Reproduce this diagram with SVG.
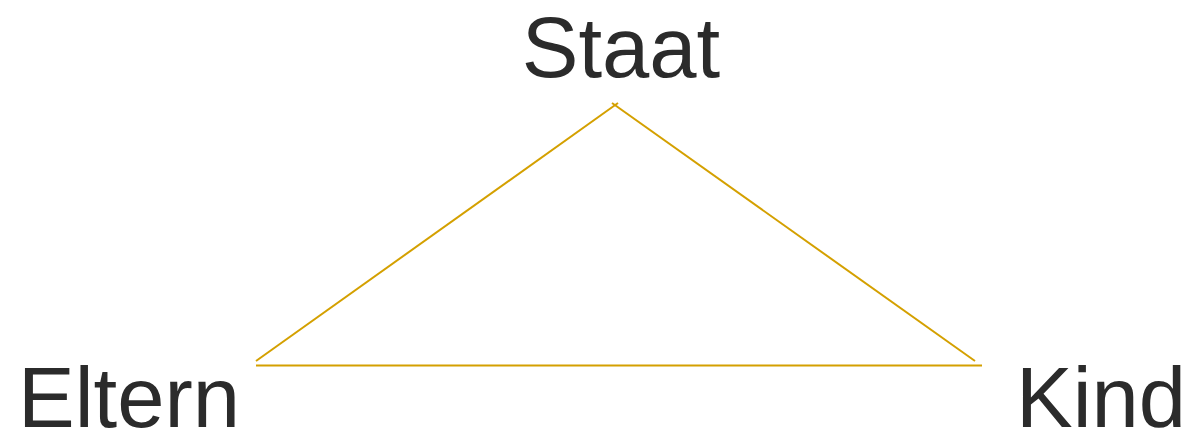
<svg xmlns="http://www.w3.org/2000/svg" width="1189" height="432" viewBox="0 0 1189 432">
<style>
.lbl{font-family:"Liberation Sans",Arial,sans-serif;font-size:85px;fill:#2b2b2b}
.edge{stroke:#d4a000;stroke-width:2;fill:none}
</style>
<rect width="1189" height="432" fill="#ffffff"/>
<g id="connectors">
<line class="edge" x1="256" y1="361" x2="618" y2="103"/>
<line class="edge" x1="612" y1="103" x2="975" y2="361"/>
<line class="edge" x1="256" y1="365.5" x2="982" y2="365.5"/>
</g>
<g id="staat"><text class="lbl" x="621" y="77" text-anchor="middle">Staat</text></g>
<g id="eltern"><text class="lbl" x="18" y="427">Eltern</text></g>
<g id="kind"><text class="lbl" x="1016" y="427">Kind</text></g>
</svg>
